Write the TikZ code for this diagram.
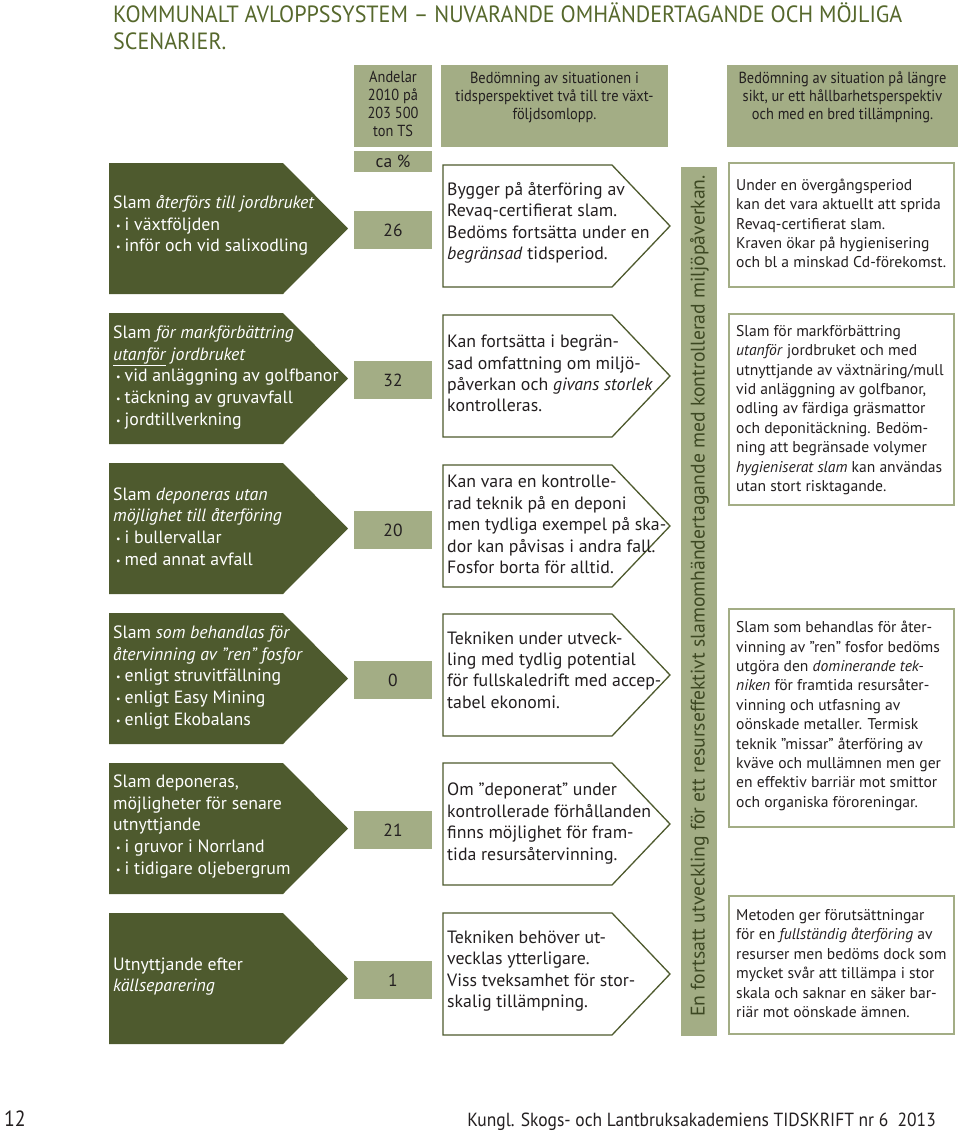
\documentclass[tikz,border=0pt]{standalone}
\usepackage{fontspec}
\setmainfont{PT Sans}
\newfontfamily\condf[FakeStretch=0.9]{PT Sans}
\newfontfamily\ttlf[FakeStretch=0.94]{PT Sans}
\newfontfamily\footf[FakeStretch=0.92]{PT Sans}
\definecolor{dk}{HTML}{4E5A2E}
\definecolor{pale}{HTML}{A3AD85}
\definecolor{ttl}{HTML}{56682C}
\definecolor{txt}{HTML}{231F20}
\definecolor{bandtxt}{HTML}{3C4722}
\newcommand\mybul{\hspace{3pt}{\fontsize{10}{10}\selectfont\raisebox{1pt}{\textbullet}}\hspace{4pt}}
\tikzset{
  lefttxt/.style={anchor=west, align=left, text=white, inner sep=0pt, font=\fontsize{17.8}{21.7}\selectfont},
  midtxt/.style={anchor=west, align=left, text=txt, inner sep=0pt, font=\fontsize{17.8}{21.4}\selectfont},
  righttxt/.style={anchor=west, align=left, text=txt, inner sep=0pt, font=\fontsize{15.6}{19.4}\selectfont},
  hdrtxt/.style={anchor=north, align=center, text=txt, inner sep=0pt, font=\condf\fontsize{16}{18}\selectfont},
  numtxt/.style={text=txt, inner sep=0pt, font=\fontsize{17.5}{17.5}\selectfont},
  ttltxt/.style={anchor=base west, text=ttl, inner sep=0pt, font=\ttlf\fontsize{23.5}{27}\selectfont},
  leftbox/.style={fill=dk},
  midbox/.style={draw=dk, line width=1.3pt, fill=white},
  rightbox/.style={draw=pale, line width=2pt},
  palebox/.style={fill=pale}
}
\begin{document}
\begin{tikzpicture}[x=1pt,y=-1pt]
\useasboundingbox (0,0) rectangle (960,1136);
\fill[white] (0,0) rectangle (960,1136);
% title
\node[ttltxt] (title1) at (113,22) {KOMMUNALT AVLOPPSSYSTEM – NUVARANDE OMHÄNDERTAGANDE OCH MÖJLIGA};
\node[ttltxt] (title2) at (113,49) {SCENARIER.};
% headers
\fill[palebox] (354,65) rectangle (432,147);
\fill[palebox] (441,65) rectangle (668,147);
\fill[palebox] (727,65) rectangle (958,147);
\fill[palebox] (354,151) rectangle (432,172);
\node[hdrtxt] (h1) at (393,71) {Andelar\\2010 på\\203 500\\ton TS};
\node[hdrtxt] (h2) at (554.5,72) {Bedömning av situationen i\\tidsperspektivet två till tre växt-\\följdsomlopp.};
\node[hdrtxt] (h3) at (842.5,72) {Bedömning av situation på längre\\sikt, ur ett hållbarhetsperspektiv\\och med en bred tillämpning.};
\node[numtxt] (ca) at (393,161.5) {ca \%};
% left pentagons and number boxes
\foreach \t in {163,313,463,613,763,913}{
  \fill[leftbox] (109,\t) -- (283,\t) -- (348,{\t+65.5}) -- (283,{\t+131}) -- (109,{\t+131}) -- cycle;
  \fill[palebox] (354,{\t+48}) rectangle (432,{\t+86});
}
\node[lefttxt] (l1) at (113,225.5) {Slam \textit{återförs till jordbruket}\\\mybul i växtföljden\\\mybul inför och vid salixodling};
\node[lefttxt] (l2) at (113,377.5) {Slam \textit{för markförbättring}\\\underline{\textit{utanför}} \textit{jordbruket}\\\mybul vid anläggning av golfbanor\\\mybul täckning av gruvavfall\\\mybul jordtillverkning};
\node[lefttxt] (l3) at (113,526.5) {Slam \textit{deponeras utan}\\\textit{möjlighet till återföring}\\\mybul i bullervallar\\\mybul med annat avfall};
\node[lefttxt] (l4) at (113,677.5) {Slam \textit{som behandlas för}\\\textit{återvinning av ”ren” fosfor}\\\mybul enligt struvitfällning\\\mybul enligt Easy Mining\\\mybul enligt Ekobalans};
\node[lefttxt] (l5) at (113,826.5) {Slam deponeras,\\möjligheter för senare\\utnyttjande\\\mybul i gruvor i Norrland\\\mybul i tidigare oljebergrum};
\node[lefttxt] (l6) at (113,976.5) {Utnyttjande efter\\\textit{källseparering}};
\node[numtxt] (n1) at (393,230) {26};
\node[numtxt] (n2) at (393,380) {32};
\node[numtxt] (n3) at (393,530) {20};
\node[numtxt] (n4) at (393,680) {0};
\node[numtxt] (n5) at (393,830) {21};
\node[numtxt] (n6) at (393,980) {1};
% middle pentagons
\foreach \t in {165,315,465,614,763,913}{
  \draw[midbox] (443,\t) -- (612,\t) -- (670,{\t+61}) -- (612,{\t+122}) -- (443,{\t+122}) -- cycle;
}
\node[midtxt] (m1) at (447,223) {Bygger på återföring av\\Revaq-certifierat slam.\\Bedöms fortsätta under en\\\textit{begränsad} tidsperiod.};
\node[midtxt] (m2) at (447,373.5) {Kan fortsätta i begrän-\\sad omfattning om miljö-\\påverkan och \textit{givans storlek}\\kontrolleras.};
\node[midtxt] (m3) at (447,524.5) {Kan vara en kontrolle-\\rad teknik på en deponi\\men tydliga exempel på ska-\\dor kan påvisas i andra fall.\\Fosfor borta för alltid.};
\node[midtxt] (m4) at (447,670) {Tekniken under utveck-\\ling med tydlig potential\\för fullskaledrift med accep-\\tabel ekonomi.};
\node[midtxt] (m5) at (447,823.5) {Om ”deponerat” under\\kontrollerade förhållanden\\finns möjlighet för fram-\\tida resursåtervinning.};
\node[midtxt] (m6) at (447,971) {Tekniken behöver ut-\\vecklas ytterligare.\\Viss tveksamhet för stor-\\skalig tillämpning.};
% band
\fill[palebox] (681,167) rectangle (717,1036);
\node[rotate=90, text=bandtxt, inner sep=0pt, font=\fontsize{19.7}{19.7}\selectfont] (band) at (699.5,596)
  {En fortsatt utveckling för ett resurseffektivt slamomhändertagande med kontrollerad miljöpåverkan.};
% right boxes
\draw[rightbox] (729,163) rectangle (954,287);
\draw[rightbox] (729,314) rectangle (954,505);
\draw[rightbox] (729,609) rectangle (954,827);
\draw[rightbox] (729,896) rectangle (954,1034);
\node[righttxt] (r1) at (736,223.5) {Under en övergångsperiod\\kan det vara aktuellt att sprida\\Revaq-certifierat slam.\\Kraven ökar på hygienisering\\och bl a minskad Cd-förekomst.};
\node[righttxt] (r2) at (736,410) {Slam för markförbättring\\\textit{utanför} jordbruket och med\\utnyttjande av växtnäring/mull\\vid anläggning av golfbanor,\\odling av färdiga gräsmattor\\och deponitäckning. Bedöm-\\ning att begränsade volymer\\\textit{hygieniserat slam} kan användas\\utan stort risktagande.};
\node[righttxt] (r3) at (736,716) {Slam som behandlas för åter-\\vinning av ”ren” fosfor bedöms\\utgöra den \textit{dominerande tek-}\\\textit{niken} för framtida resursåter-\\vinning och utfasning av\\oönskade metaller. Termisk\\teknik ”missar” återföring av\\kväve och mullämnen men ger\\en effektiv barriär mot smittor\\och organiska föroreningar.};
\node[righttxt] (r4) at (736,963.5) {Metoden ger förutsättningar\\för en \textit{fullständig återföring} av\\resurser men bedöms dock som\\mycket svår att tillämpa i stor\\skala och saknar en säker bar-\\riär mot oönskade ämnen.};
% footer
\node[anchor=base west, inner sep=0pt, text=txt, font=\condf\fontsize{22}{22}\selectfont] (pg) at (4,1126) {12};
\node[anchor=base east, inner sep=0pt, text=txt, font=\footf\fontsize{19}{19}\selectfont] (foot) at (936,1126) {Kungl. Skogs- och Lantbruksakademiens TIDSKRIFT nr 6\ \ 2013};
\end{tikzpicture}
\end{document}
